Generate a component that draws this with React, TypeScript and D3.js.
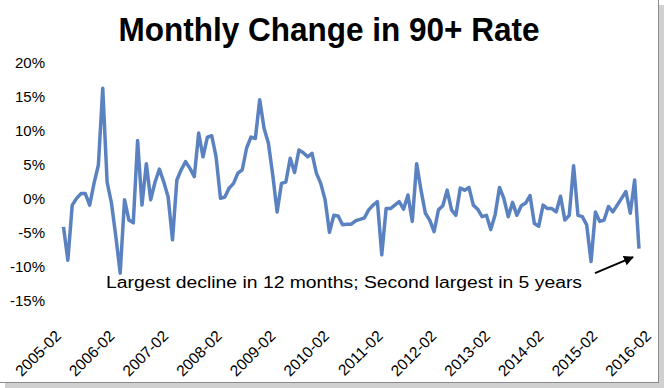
import * as d3 from "d3";

const W = 664;
const H = 388;

const chartTitle = "Monthly Change in 90+ Rate";
const noteText = "Largest decline in 12 months; Second largest in 5 years";

// monthly change, % (2005-02 .. 2016-02)
const values = [
  -4.1, -9.0, -0.9, 0.1, 0.8, 0.8, -0.9, 2.3, 5.0, 16.3, 2.5, -0.6,
  -5.5, -10.9, -0.1, -3.1, -3.5, 8.6, -0.9, 5.2, -0.1, 2.5, 4.4, 2.5,
  0.3, -6.0, 2.8, 4.3, 5.5, 4.5, 3.3, 9.7, 6.2, 9.1, 9.3, 6.2,
  0.1, 0.3, 1.6, 2.3, 3.8, 4.3, 7.5, 9.1, 8.9, 14.6, 10.4, 8.2,
  3.5, -1.9, 2.3, 2.5, 6.0, 3.9, 7.2, 6.8, 6.2, 6.7, 3.8, 2.3,
  -0.1, -4.9, -2.4, -2.5, -3.8, -3.7, -3.7, -3.2, -3.0, -2.8, -1.6, -0.9,
  -0.4, -8.2, -1.4, -1.4, -0.9, -0.4, -1.5, 0.6, -3.3, 5.2, 1.3, -2.1,
  -3.1, -4.8, -1.6, -1.0, 1.3, -1.6, -2.4, 1.6, 1.3, 1.7, -0.9, -1.5,
  -2.6, -2.4, -4.5, -2.3, 1.7, 0.1, -2.6, -0.5, -2.4, -1.0, -0.6, 0.5,
  -3.6, -4.0, -0.9, -1.4, -1.4, -1.9, 0.4, -3.1, -2.4, 4.9, -2.4, -2.6,
  -3.8, -9.2, -1.9, -3.3, -3.1, -1.1, -1.9, -0.9, 0.1, 1.1, -2.1, 2.8,
  -7.3,
];

const tickLabels = [
  "2005-02", "2006-02", "2007-02", "2008-02", "2009-02", "2010-02",
  "2011-02", "2012-02", "2013-02", "2014-02", "2015-02", "2016-02",
];
const yTicks = [20, 15, 10, 5, 0, -5, -10, -15];

export default function App() {
  const margin = { top: 63, left: 63.5, right: 25, bottom: 87 };

  const x = d3
    .scaleLinear()
    .domain([0, values.length - 1])
    .range([margin.left, W - margin.right]);

  const y = d3
    .scaleLinear()
    .domain([-15, 20])
    .range([H - margin.bottom, margin.top]);

  // the category labels sit a touch wider than the plotted line
  const xLab = d3.scalePoint<string>().domain(tickLabels).range([62, 652]);

  const line = d3
    .line<number>()
    .x((_, i) => x(i))
    .y((d) => y(d));

  const last = values.length - 1;
  const tipX = x(last) - 6;
  const tipY = y(values[last]) + 8.5;

  return (
    <svg
      width={W}
      height={H}
      style={{ position: "absolute", left: 0, top: 0 }}
      fontFamily="'Liberation Sans', Arial, sans-serif"
    >
      <defs>
        <marker
          id="head"
          viewBox="0 0 10 10"
          refX="9"
          refY="5"
          markerWidth="5"
          markerHeight="5"
          orient="auto"
        >
          <path d="M0,0 L10,5 L0,10 z" fill="#000" />
        </marker>
      </defs>
      <rect width={W} height={H} fill="#fff" />
      {/* picture frame with shadow */}
      <rect x={659} y={5} width={5} height={H - 5} fill="#d0d0d0" />
      <rect x={5} y={383} width={W - 5} height={5} fill="#d0d0d0" />
      <line x1={658.5} y1={0} x2={658.5} y2={383} stroke="#8a8a8a" />
      <line x1={0} y1={382.5} x2={659} y2={382.5} stroke="#8a8a8a" />

      <text
        x={329}
        y={41}
        textAnchor="middle"
        fontSize={34}
        fontWeight="bold"
        textLength={421}
        lengthAdjust="spacingAndGlyphs"
      >
        {chartTitle}
      </text>

      {yTicks.map((t) => (
        <text key={t} x={45} y={y(t) + 5} textAnchor="end" fontSize={15}>
          {t}%
        </text>
      ))}

      {tickLabels.map((lab) => {
        const px = xLab(lab) || 0;
        const py = 337;
        return (
          <text
            key={lab}
            x={px}
            y={py}
            textAnchor="end"
            fontSize={15.5}
            transform={`rotate(-45 ${px} ${py})`}
          >
            {lab}
          </text>
        );
      })}

      <path
        d={line(values) || ""}
        fill="none"
        stroke="#5b82c0"
        strokeWidth={3.5}
        strokeLinejoin="round"
      />

      <text
        x={106}
        y={288}
        fontSize={16}
        textLength={476}
        lengthAdjust="spacingAndGlyphs"
      >
        {noteText}
      </text>

      <line
        x1={tipX - 38}
        y1={tipY + 16}
        x2={tipX}
        y2={tipY}
        stroke="#000"
        strokeWidth={2}
        markerEnd="url(#head)"
      />
    </svg>
  );
}
